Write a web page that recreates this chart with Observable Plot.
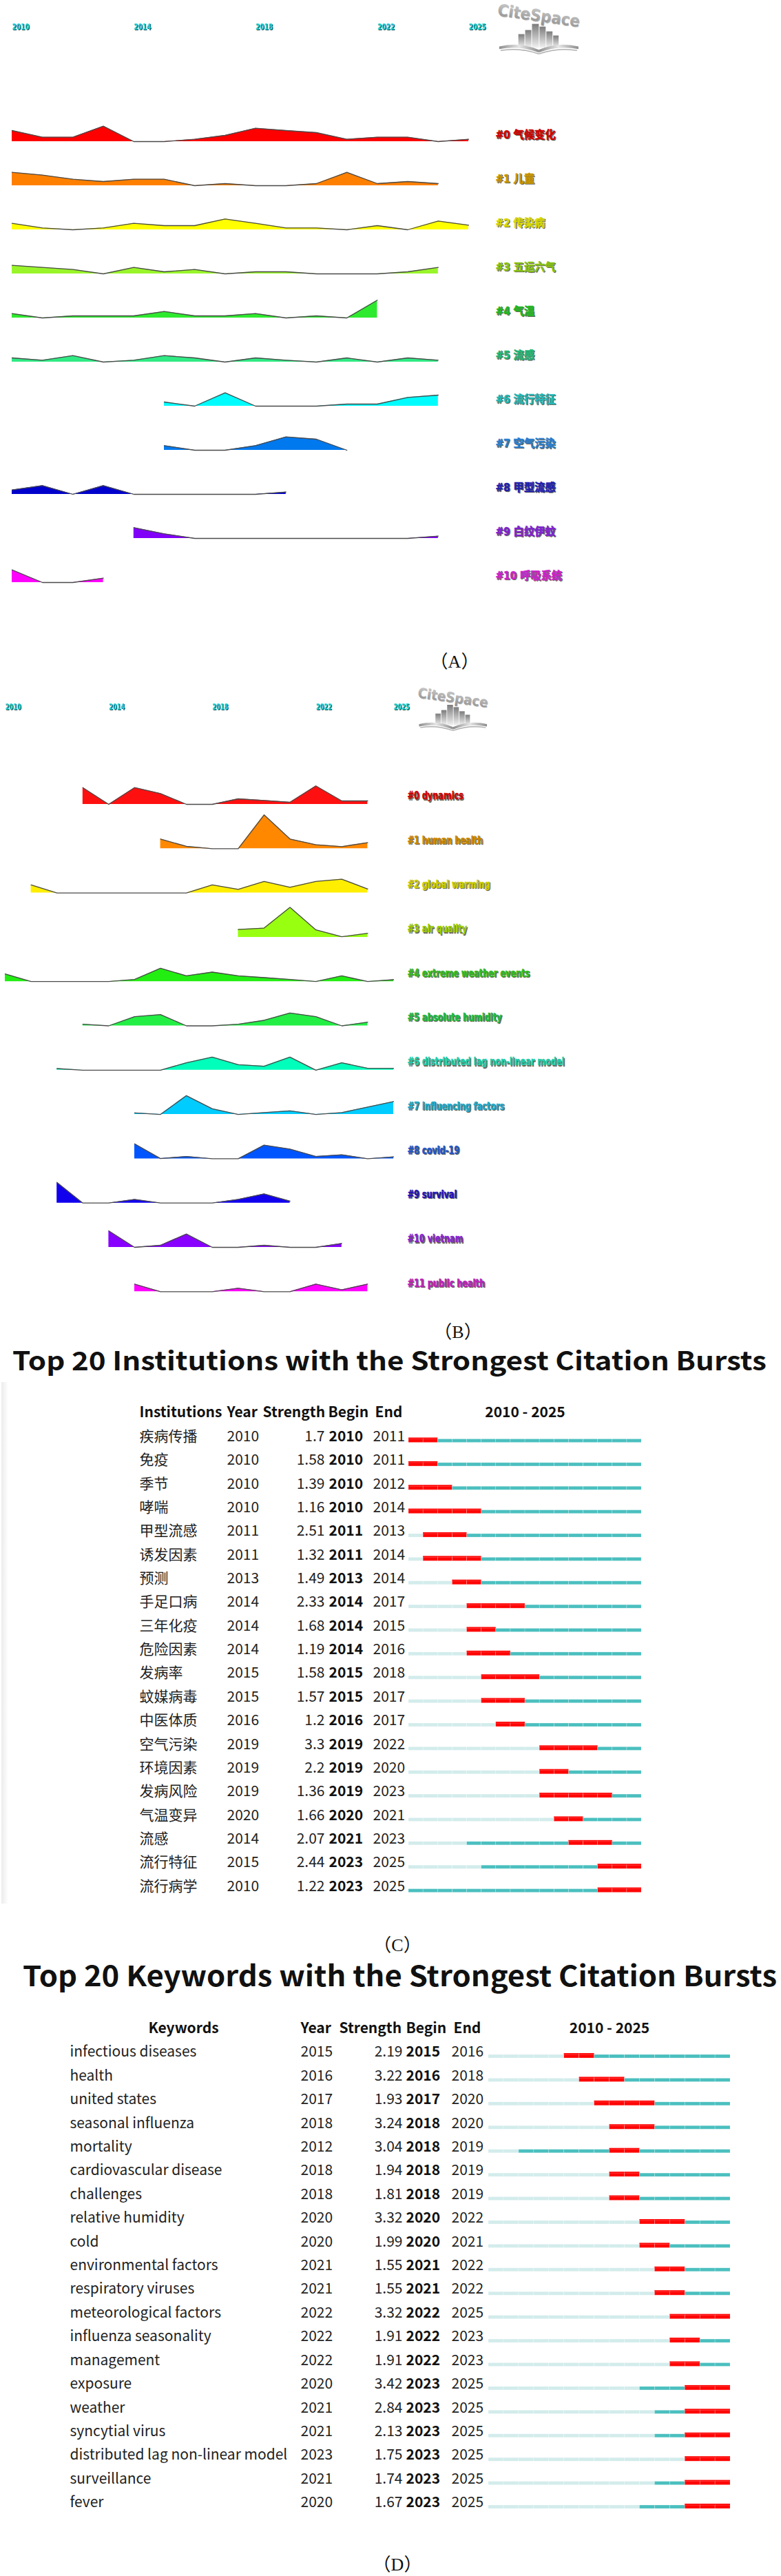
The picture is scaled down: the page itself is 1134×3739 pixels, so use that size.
<!DOCTYPE html>
<html><head><meta charset="utf-8">
<script src="https://cdn.jsdelivr.net/npm/d3@7"></script>
<script src="https://cdn.jsdelivr.net/npm/@observablehq/plot@0.6"></script>
<style>
body{margin:0;background:#fff}
#root{position:relative;width:1134px;height:3739px;overflow:hidden;background:#fff}
#root svg{background:transparent}
</style>
</head><body><div id="root"></div>
<script>
// ---------------- DATA ----------------
const yearTicks = [2010, 2014, 2018, 2022, 2025];

// Panel A : cluster timeline (Chinese)
const labelsA = ["#0 气候变化","#1 儿童","#2 传染病","#3 五运六气","#4 气温","#5 流感","#6 流行特征","#7 空气污染","#8 甲型流感","#9 白纹伊蚊","#10 呼吸系统"];
const startA = [2010,2010,2010,2010,2010,2010,2015,2015,2010,2014,2010];
const valuesA = [
  [16,6.3,6.3,22.3,0,0,3.3,9,19.3,16,13,3.3,6.3,6.3,0,3.3],
  [19.3,15.3,9.3,6,9.3,9.3,0,3,0,0,3,19.3,3,6,3],
  [9.3,2.7,0,2.7,9.3,6,6,15.7,9.3,2.7,2.7,0,6,0,12.7,6.7],
  [12.3,9.3,6.3,0,9.3,3,6.3,0,3,3,0,0,0,3,9.3],
  [6.3,0,3,3,3,9.3,3,3,6.3,0,3,0,25.7],
  [6,2.7,9.3,0,2.7,9.3,6,0,6,2.7,0,6,0,6,2.7],
  [6,0,19.3,0,0,0,3,3,12.7,16],
  [6.7,0,0,6.7,19.3,16,0],
  [6.3,12.7,0,12.7,0,0,0,0,0,3.3],
  [15.7,6.7,0,0,0,0,0,0,0,0,3.3],
  [18.3,0,0,6.3]
];
const fillsA = ["#ff0000","#ff8000","#ffff00","#99f52a","#2eea2e","#30ea84","#00fcfc","#0078ee","#0000cc","#8000f8","#ff00ff"];
const labelColorsA = ["#cc0000","#c99600","#d8d800","#88c411","#22b822","#22b877","#22b8b8","#2a7fd0","#2020b0","#8020d0","#cc20cc"];

// Panel B : cluster timeline (English)
const labelsB = ["#0 dynamics","#1 human health","#2 global warming","#3 air quality","#4 extreme weather events","#5 absolute humidity","#6 distributed lag non-linear model","#7 influencing factors","#8 covid-19","#9 survival","#10 vietnam","#11 public health"];
const startB = [2013,2016,2011,2019,2010,2013,2012,2015,2015,2012,2014,2015];
const valuesB = [
  [24.3,0,24.3,15.7,0,0,8,5.7,3,26.7,5,5],
  [14,3.3,0,0,49,14,5.7,3,8.7],
  [11.7,0,0,0,0,0,0,11.7,5.3,16.7,8.3,16.7,20,5.7],
  [11.3,13.3,43.3,10.7,0.7,5.7],
  [11,0,0,0,0,3,19.3,8.3,13.7,8.3,5.7,3,0,8.3,0,2.7],
  [2.3,0,13.3,16.3,0,0,2.3,8,18.7,13.3,0,5.3],
  [2.3,0,0,0,0,10.7,19,8,5.7,19,0,10.7,2.7,2.7],
  [2.3,0,27.3,8.3,0,2.7,5.3,0,2.7,10.7,18.7],
  [21.7,0.3,3.3,0,0,19.7,14,3.3,5.7,0,2.7],
  [30,0,0,5.3,0,0,0,5.3,13.3,2.7],
  [24,0,3,19.3,0,0,3,0,0,5.7],
  [11,0,0,0,5,0,0,11,2.7,11]
];
const fillsB = ["#ff1010","#ff8800","#ffee00","#99ff11","#22ee11","#22ee44","#00ffbb","#00ccff","#0055ff","#1100ee","#8800ff","#ff00ff"];
const labelColorsB = ["#cc0000","#cc8800","#cccc00","#99cc00","#33bb22","#22bb44","#22ccaa","#22aacc","#2255cc","#2211bb","#8822cc","#bb22bb"];

// Panel C : institutions bursts
const headerC = ["Institutions","Year","Strength","Begin","End","2010 - 2025"];
const namesC = ["疾病传播","免疫","季节","哮喘","甲型流感","诱发因素","预测","手足口病","三年化疫","危险因素","发病率","蚊媒病毒","中医体质","空气污染","环境因素","发病风险","气温变异","流感","流行特征","流行病学"];
const yearC = [2010,2010,2010,2010,2011,2011,2013,2014,2014,2014,2015,2015,2016,2019,2019,2019,2020,2014,2015,2010];
const strengthC = [1.7,1.58,1.39,1.16,2.51,1.32,1.49,2.33,1.68,1.19,1.58,1.57,1.2,3.3,2.2,1.36,1.66,2.07,2.44,1.22];
const beginC = [2010,2010,2010,2010,2011,2011,2013,2014,2014,2014,2015,2015,2016,2019,2019,2019,2020,2021,2023,2023];
const endC = [2011,2011,2012,2014,2013,2014,2014,2017,2015,2016,2018,2017,2017,2022,2020,2023,2021,2023,2025,2025];

// Panel D : keywords bursts
const headerD = ["Keywords","Year","Strength","Begin","End","2010 - 2025"];
const namesD = ["infectious diseases","health","united states","seasonal influenza","mortality","cardiovascular disease","challenges","relative humidity","cold","environmental factors","respiratory viruses","meteorological factors","influenza seasonality","management","exposure","weather","syncytial virus","distributed lag non-linear model","surveillance","fever"];
const yearD = [2015,2016,2017,2018,2012,2018,2018,2020,2020,2021,2021,2022,2022,2022,2020,2021,2021,2023,2021,2020];
const strengthD = [2.19,3.22,1.93,3.24,3.04,1.94,1.81,3.32,1.99,1.55,1.55,3.32,1.91,1.91,3.42,2.84,2.13,1.75,1.74,1.67];
const beginD = [2015,2016,2017,2018,2018,2018,2018,2020,2020,2021,2021,2022,2022,2022,2023,2023,2023,2023,2023,2023];
const endD = [2016,2018,2020,2020,2019,2019,2019,2022,2021,2022,2022,2025,2023,2023,2025,2025,2025,2025,2025,2025];

const titleC = "Top 20 Institutions with the Strongest Citation Bursts";
const titleD = "Top 20 Keywords with the Strongest Citation Bursts";
const captions = ["（A）","（B）","（C）","（D）"];
const logoText = "CiteSpace";

// ---------------- HELPERS ----------------
const W = 1134;
const root = document.getElementById("root");
function fontAvailable(name){
  const c = document.createElement("canvas").getContext("2d");
  const t = "abcdefghijklmnopqrstuvwxyz0123456789ABCDEF";
  c.font = "40px monospace"; const a = c.measureText(t).width;
  c.font = `40px "${name}", monospace`; const b = c.measureText(t).width;
  return a !== b;
}
const NARROW = fontAvailable("Liberation Sans Narrow") ? '"Liberation Sans Narrow","Noto Sans CJK SC",sans-serif'
  : fontAvailable("DejaVu Sans Condensed") ? '"DejaVu Sans Condensed","Noto Sans CJK SC",sans-serif'
  : '"Liberation Sans","Noto Sans CJK SC",sans-serif';
const CJK = '"Noto Sans CJK SC","Noto Sans",sans-serif';

function place(el, left, top){ el.style.position="absolute"; el.style.left=left+"px"; el.style.top=top+"px"; root.appendChild(el); return el; }

// squeeze the text glyphs of a placed svg so that a sample label gets its reference width
function condense(svg, sample, target){
  const texts = Array.from(svg.querySelectorAll("text"));
  const ref = texts.find(t => t.textContent === sample);
  if (!ref) return;
  const f = Math.min(1, target / ref.getComputedTextLength());
  if (f >= 0.99) return;
  texts.forEach(t => { const L = t.getComputedTextLength(); t.setAttribute("textLength", L * f); t.setAttribute("lengthAdjust", "spacingAndGlyphs"); });
}

function axisPlot(ticks, mL, mR, fontSize){
  return Plot.plot({
    width: W, height: 40, margin: 0, marginLeft: mL, marginRight: mR,
    style: {background: "transparent", overflow: "visible"},
    x: {domain: [ticks[0], ticks[ticks.length-1]], axis: null},
    marks: [
      Plot.text(ticks, {x: d=>d, text: d=>String(d), textAnchor: "start", dx: 1, dy: 1, fill: "#0b4f55", fontFamily: NARROW, fontWeight: "bold", fontSize}),
      Plot.text(ticks, {x: d=>d, text: d=>String(d), textAnchor: "start", fill: "#1cd2d8", fontFamily: NARROW, fontWeight: "bold", fontSize})
    ]
  });
}

function streamPlot(o){
  const data = o.labels.flatMap((lab,i)=> o.values[i].map((v,j)=>({cluster: lab, idx: i, year: o.starts[i]+j, value: v})));
  const n = o.labels.length;
  return Plot.plot({
    width: W, height: o.marginTop + o.band*n + o.marginBottom,
    marginTop: o.marginTop, marginBottom: o.marginBottom, marginLeft: o.marginLeft, marginRight: o.marginRight,
    style: {background: "transparent", overflow: "visible"},
    x: {domain: [yearTicks[0], yearTicks[yearTicks.length-1]], axis: null},
    y: {domain: [0, o.ymax], axis: null, insetTop: o.band - o.ymax},
    fy: {domain: o.labels, padding: 0, axis: null, round: false},
    color: {type: "identity"},
    marks: [
      Plot.areaY(data, {x: "year", y: "value", fy: "cluster", z: "cluster", fill: d => o.fills[d.idx], curve: "linear"}),
      Plot.lineY(data, {x: "year", y: "value", fy: "cluster", z: "cluster", stroke: "#4a4a4a", strokeWidth: 1.3}),
      Plot.text(o.labels, {fy: d=>d, text: d=>d, frameAnchor: "bottom-right", textAnchor: "start", dx: o.labelDx+1.3, dy: o.labelDy+1.3, fill: "#3a3a2a", fillOpacity: 0.75, stroke: "#3a3a2a", strokeOpacity: 0.5, strokeWidth: 0.6, fontFamily: NARROW, fontWeight: "bold", fontSize: o.fontSize}),
      Plot.text(o.labels, {fy: d=>d, text: d=>d, frameAnchor: "bottom-right", textAnchor: "start", dx: o.labelDx, dy: o.labelDy, fill: (d,i)=>o.labelColors[i], stroke: (d,i)=>o.labelColors[i], strokeWidth: 0.4, fontFamily: NARROW, fontWeight: "bold", fontSize: o.fontSize})
    ]
  });
}

const LIGHT = "#d3ecec", TEAL = "#4bbfbf", RED = "#ff0505";
function burstPlot(o){
  const span = o.header[5].split("-").map(s=>+s.trim());
  const cells = o.names.flatMap((nm,i)=> d3.range(span[0], span[1]+1).map(y=>({name: nm, year: y,
    state: y < o.years[i] ? 0 : (y >= o.begins[i] && y <= o.ends[i] ? 2 : 1)})));
  const b = o.band, fs = 21;
  const common = {frameAnchor: "left", fontFamily: CJK, fontSize: fs, fill: "#222"};
  const hdr = o.header.slice(0,5).map((h,k)=> Plot.text([h], {...common, y: ()=>"__header", text: d=>d, dx: o.hdrDx[k], textAnchor: o.hdrAnchor[k], fontWeight: "bold", fill: "#111"}));
  return Plot.plot({
    width: W, height: o.marginTop + b*(o.names.length+1) + 10,
    marginTop: o.marginTop, marginBottom: 10, marginLeft: o.marginLeft, marginRight: o.marginRight,
    style: {background: "transparent", overflow: "visible"},
    x: {domain: [span[0], span[1]+1], axis: null},
    y: {domain: ["__header", ...o.names], axis: null, padding: 0, round: false},
    color: {type: "identity"},
    marks: [
      Plot.barX(cells.filter(c=>c.state<2), {x1: "year", x2: d=>d.year+1, y: "name", fill: d=> d.state===0 ? LIGHT : TEAL, insetTop: b/2+4, insetBottom: b/2-9}),
      Plot.barX(cells.filter(c=>c.state===2), {x1: "year", x2: d=>d.year+1, y: "name", fill: RED, insetTop: b/2+2, insetBottom: b/2-9}),
      Plot.barX(cells, {x1: "year", x2: d=>d.year+1, y: "name", fill: "none", stroke: "#ffffff", strokeOpacity: 0.3, strokeWidth: 0.6, insetTop: b/2+4, insetBottom: b/2-9}),
      Plot.text(o.names, {...common, y: d=>d, text: d=>d, dx: o.cols[0], textAnchor: "start"}),
      Plot.text(o.names, {...common, y: d=>d, text: (d,i)=>String(o.years[i]), dx: o.cols[1], textAnchor: "start"}),
      Plot.text(o.names, {...common, y: d=>d, text: (d,i)=>String(o.strengths[i]), dx: o.cols[2], textAnchor: "end"}),
      Plot.text(o.names, {...common, y: d=>d, text: (d,i)=>String(o.begins[i]), dx: o.cols[3], textAnchor: "start", fontWeight: "bold", fill: "#111"}),
      Plot.text(o.names, {...common, y: d=>d, text: (d,i)=>String(o.ends[i]), dx: o.cols[4], textAnchor: "start"}),
      ...hdr,
      Plot.text([o.header[5]], {y: ()=>"__header", x: ()=> (span[0]+span[1]+1)/2, text: d=>d, textAnchor: "middle", fontFamily: CJK, fontSize: fs, fontWeight: "bold", fill: "#111"})
    ]
  });
}

// decorative CiteSpace logo (viewBox with generous room so the tilted word stays inside)
function logo(id, w){
  const vbW = 150, vbH = 90;
  const h = w * vbH / vbW;
  const d = document.createElement("div");
  const ff = NARROW.replace(/"/g,"");
  d.innerHTML = `<svg width="${w}" height="${h}" viewBox="-15 -15 ${vbW} ${vbH}" xmlns="http://www.w3.org/2000/svg">
  <defs>
   <linearGradient id="${id}t" x1="0" y1="0" x2="0" y2="1"><stop offset="0" stop-color="#d0d0d0"/><stop offset="1" stop-color="#8c8c8c"/></linearGradient>
   <linearGradient id="${id}b" x1="0" y1="0" x2="0" y2="1"><stop offset="0" stop-color="#7c7c7c"/><stop offset="1" stop-color="#f2f2f2"/></linearGradient>
   <linearGradient id="${id}k" x1="0" y1="0" x2="1" y2="0"><stop offset="0" stop-color="#8c8c8c"/><stop offset="0.5" stop-color="#e6e6e6"/><stop offset="1" stop-color="#8c8c8c"/></linearGradient>
  </defs>
  <g transform="rotate(8 60 12)">
   <text x="61" y="22" text-anchor="middle" font-family='${ff}' font-weight="bold" font-size="24" fill="#777" opacity="0.5">${logoText}</text>
   <text x="60" y="21" text-anchor="middle" font-family='${ff}' font-weight="bold" font-size="24" fill="url(#${id}t)">${logoText}</text>
  </g>
  <rect x="30" y="40" width="9" height="20" fill="url(#${id}b)"/>
  <rect x="40" y="34" width="9" height="26" fill="url(#${id}b)"/>
  <rect x="50" y="25" width="10" height="35" fill="url(#${id}b)"/>
  <rect x="61" y="29" width="9" height="31" fill="url(#${id}b)"/>
  <rect x="71" y="36" width="9" height="24" fill="url(#${id}b)"/>
  <rect x="81" y="42" width="8" height="18" fill="url(#${id}b)"/>
  <path d="M2 58 Q32 51 60 63 L60 67 Q32 56 2 62 Z" fill="url(#${id}k)"/>
  <path d="M118 58 Q88 51 60 63 L60 67 Q88 56 118 62 Z" fill="url(#${id}k)"/>
  <path d="M4 64 Q32 59 60 69" stroke="#b0b0b0" stroke-width="1.6" fill="none"/>
  <path d="M116 64 Q88 59 60 69" stroke="#b0b0b0" stroke-width="1.6" fill="none"/>
  </svg>`;
  return d;
}

function titleSvg(text, x, baseline, fontSize, len){
  const s = d3.create("svg").attr("width", W).attr("height", baseline + 20);
  s.append("text").attr("x", x).attr("y", baseline).attr("textLength", len).attr("lengthAdjust", "spacingAndGlyphs")
    .attr("font-family", CJK).attr("font-weight", 700).attr("font-size", fontSize).attr("fill", "#111").text(text);
  return s.node();
}

// panel caption drawn in its own small svg, centred on (cx, cy)
function caption(text, cx, cy){
  const w = 120, h = 44;
  const s = d3.create("svg").attr("width", w).attr("height", h);
  s.append("text").attr("x", w/2).attr("y", h/2).attr("text-anchor", "middle").attr("dominant-baseline", "central")
    .attr("font-family", '"Liberation Serif","Noto Sans CJK SC",serif').attr("font-size", 26).attr("fill", "#111").text(text);
  place(s.node(), cx - w/2, cy - h/2);
}

// ---------------- PANEL A ----------------
const axA = place(axisPlot(yearTicks, 17, W-680, 13), 0, 18);
condense(axA, "2010", 25);
place(logo("la", 119*150/120), 723 - 15*119/120, 10 - 15*119/120);
const stA = place(streamPlot({labels: labelsA, starts: startA, values: valuesA, fills: fillsA, labelColors: labelColorsA,
  marginTop: 41, marginBottom: 25, marginLeft: 17, marginRight: W-680, band: 64, ymax: 30,
  labelDx: 39, labelDy: -5, fontSize: 16}), 0, 100);
condense(stA, "#0 气候变化", 87);
caption(captions[0], 660, 960);

// ---------------- PANEL B ----------------
const axB = place(axisPlot(yearTicks, 7, W-571, 12.5), 0, 1005);
condense(axB, "2010", 23);
place(logo("lb", 102*150/120), 607 - 15*102/120, 1002 - 15*102/120);
const stB = place(streamPlot({labels: labelsB, starts: startB, values: valuesB, fills: fillsB, labelColors: labelColorsB,
  marginTop: 22.7, marginBottom: 15, marginLeft: 7, marginRight: W-571, band: 64.3, ymax: 50,
  labelDx: 20, labelDy: -7, fontSize: 15}), 0, 1080);
condense(stB, "#6 distributed lag non-linear model", 228);
caption(captions[1], 665, 1933);

// ---------------- PANEL C ----------------
const shadow = document.createElement("div");
shadow.style.cssText = "width:10px;height:757px;background:linear-gradient(to right,#ececec,#f7f7f7 60%,#fff)";
place(shadow, 2, 2006);
place(titleSvg(titleC, 18, 39, 38, 1095), 0, 1950);
place(burstPlot({names: namesC, years: yearC, strengths: strengthC, begins: beginC, ends: endC, header: headerC,
  marginTop: 3, marginLeft: 593, marginRight: W-931, band: 34.37,
  cols: [-391, -264, -122, -116, -52], hdrDx: [-391, -264, -212, -117, -49], hdrAnchor: ["start","start","start","start","start"]}), 0, 2030);
caption(captions[2], 577, 2823);

// ---------------- PANEL D ----------------
place(titleSvg(titleD, 33, 43, 41, 1095), 0, 2840);
place(burstPlot({names: namesD, years: yearD, strengths: strengthD, begins: beginD, ends: endD, header: headerD,
  marginTop: 6.4, marginLeft: 709, marginRight: W-1060, band: 34.42,
  cols: [-608, -273, -125, -120, -54], hdrDx: [-443, -273, -217, -120, -51], hdrAnchor: ["middle","start","start","start","start"]}), 0, 2920);
caption(captions[3], 577, 3722);
</script></body></html>
